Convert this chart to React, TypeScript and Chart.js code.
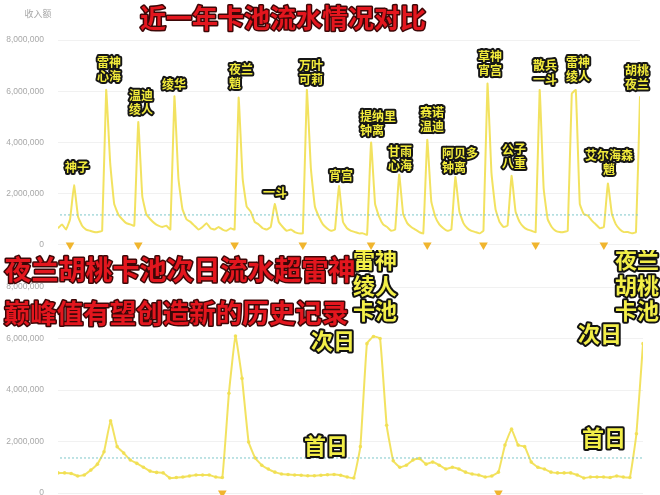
import React, { useEffect, useRef } from "react";
import { Chart, registerables } from "chart.js";
Chart.register(...registerables);

// ---- data (values in millions) ----
const topValues = [
  0.65, 0.8, 0.6, 1.0, 2.33, 1.1, 0.75, 0.6, 0.55, 0.5, 0.5, 0.55,
  6.05, 3.2, 1.6, 1.2, 1.0, 0.85, 0.8, 0.75,
  4.8, 1.9, 1.2, 1.0, 0.85, 0.75, 0.7, 0.75, 0.6,
  5.8, 2.6, 1.4, 1.0, 0.9, 0.75, 0.6, 0.7, 0.85, 0.65, 0.6, 0.7, 0.6, 0.55, 0.65, 0.6,
  5.75, 2.6, 1.5, 1.3, 0.9, 0.8, 0.65, 0.6, 0.7,
  1.6, 0.9, 0.7, 0.55, 0.6, 0.5, 0.45, 0.45,
  6.05, 3.0, 1.5, 1.1, 0.8, 0.65, 0.55, 0.6,
  2.3, 0.9, 0.65, 0.55, 0.5, 0.45, 0.45, 0.4,
  4.0, 1.6, 1.1, 0.8, 0.7, 0.55, 0.6,
  2.75, 1.2, 0.85, 0.7, 0.6, 0.5, 0.45,
  4.1, 1.7, 1.1, 0.8, 0.65, 0.55, 0.6,
  2.65, 1.3, 0.85, 0.65, 0.55, 0.5, 0.45, 0.55,
  6.3, 2.8, 1.4, 0.9, 0.7, 0.75,
  2.7, 1.3, 0.9, 0.7, 0.6, 0.55, 0.5,
  6.05, 2.2, 1.0, 0.7, 0.55, 0.5, 0.5, 0.55,
  5.9, 6.05, 1.6, 1.2, 1.15, 0.95, 0.8, 0.65, 0.7,
  2.4, 1.2, 0.8, 0.6, 0.5, 0.5, 0.45, 0.5, 5.8,
];

const bottomValues = [
  0.78, 0.78, 0.76, 0.66, 0.7, 0.89, 1.12, 1.6, 2.8, 1.8,
  1.55, 1.28, 1.15, 1.0, 0.85, 0.8, 0.78, 0.58, 0.6, 0.62,
  0.66, 0.7, 0.7, 0.7, 0.62, 0.6, 3.87, 6.1, 4.45, 1.98,
  1.36, 1.08, 0.93, 0.81, 0.74, 0.72, 0.7, 0.69, 0.67, 0.67,
  0.69, 0.71, 0.72, 0.69, 0.62, 0.58, 1.8, 5.8, 6.08, 6.0,
  2.63, 1.25, 1.0, 1.08, 1.28, 1.34, 1.12, 1.2, 1.08, 0.93,
  1.0, 0.93, 0.81, 0.74, 0.7, 0.62, 0.66, 0.81, 1.86, 2.48,
  1.86, 1.8, 1.2, 1.0, 0.93, 0.81, 0.78, 0.78, 0.78, 0.7,
  0.58, 0.62, 0.62, 0.62, 0.6, 0.66, 0.62, 0.6, 2.3, 5.8,
];

const yTickValues = [0, 2000000, 4000000, 6000000, 8000000];
const topAverage = 1.17;
const bottomAverage = 1.36;
const topBannerIndex = [3, 20, 44, 61, 78, 92, 106, 119, 136];
const bottomBannerIndex = [25, 67];

const topLabelLines = [
  ["神子"], ["雷神", "心海"], ["温迪", "绫人"], ["绫华"], ["夜兰", "魈"], ["一斗"],
  ["万叶", "可莉"], ["宵宫"], ["提纳里", "钟离"], ["甘雨", "心海"], ["赛诺", "温迪"],
  ["阿贝多", "钟离"], ["草神", "宵宫"], ["公子", "八重"], ["散兵", "一斗"],
  ["雷神", "绫人"], ["艾尔海森", "魈"], ["胡桃", "夜兰"],
];
const topLabelIndex = [1.74, 9.72, 17.69, 25.91, 42.6, 51.07, 60.04, 67.51, 75.24, 82.21, 90.18, 95.66, 104.63, 110.61, 118.34, 126.56, 131.29, 141.26];
const topLabelValue = [3.04, 7.14, 5.85, 6.28, 6.87, 2.03, 6.99, 2.73, 5.03, 3.63, 5.19, 3.59, 7.34, 3.71, 7.02, 7.14, 3.51, 6.83];
const topLabelCentered = [false, false, false, false, false, false, false, false, false, false, false, false, false, false, false, false, true, false];

const bottomLabelLines = [["雷神", "绫人", "卡池"], ["夜兰", "胡桃", "卡池"], ["次日"], ["首日"], ["次日"], ["首日"]];
const bottomLabelIndex = [48.23, 88.09, 41.84, 40.77, 82.46, 83.07];
const bottomLabelValue = [9.05, 9.05, 5.9, 1.83, 6.17, 2.14];

const topTitle = "近一年卡池流水情况对比";
const bottomTitle1 = "夜兰胡桃卡池次日流水超雷神";
const bottomTitle2 = "巅峰值有望创造新的历史记录";
const yAxisName = "收入额";

const CJK = '"Noto Sans CJK SC", sans-serif';
const LINE_COLOR = "rgba(241,223,82,0.92)";

function outlined(ctx: CanvasRenderingContext2D, text: string, x: number, y: number, font: string, fill: string, stroke: string, lw: number, align: CanvasTextAlign) {
  ctx.save();
  ctx.font = font;
  ctx.textAlign = align;
  ctx.textBaseline = "middle";
  ctx.lineJoin = "round";
  if (lw > 0) {
    ctx.lineWidth = lw;
    ctx.strokeStyle = stroke;
    ctx.strokeText(text, x, y);
  }
  ctx.fillStyle = fill;
  ctx.fillText(text, x, y);
  ctx.restore();
}

function makeConfig(opts: {
  values: number[];
  banners: number[];
  average: number;
  points: boolean;
  padding: { top: number; bottom: number; right: number };
  drawExtra: (chart: any) => void;
}) {
  const n = opts.values.length;
  const lineData = opts.values.map((v, i) => ({ x: i, y: v * 1e6 }));
  const bannerData = opts.banners.map((i) => ({ x: i, y: 0 }));
  return {
    type: "line" as const,
    data: {
      datasets: [
        {
          data: lineData,
          borderColor: LINE_COLOR,
          backgroundColor: LINE_COLOR,
          borderWidth: 2,
          pointRadius: opts.points ? 1.8 : 0,
          pointBorderWidth: 0,
          tension: 0.1,
          order: 2,
        },
        {
          type: "scatter" as const,
          data: bannerData,
          pointStyle: "triangle",
          rotation: 180,
          pointRadius: 5,
          pointBorderWidth: 0,
          backgroundColor: "#f0b52e",
          borderColor: "#f0b52e",
          clip: false as any,
          order: 1,
        },
      ],
    },
    options: {
      responsive: false,
      animation: false as const,
      layout: { padding: { left: 0, top: opts.padding.top, bottom: opts.padding.bottom, right: opts.padding.right } },
      plugins: { legend: { display: false }, tooltip: { enabled: false } },
      scales: {
        x: { type: "linear" as const, display: false, min: 0, max: n - 1 },
        y: {
          min: 0,
          max: 8000000,
          border: { display: false },
          grid: { color: "#f1f1f1", drawTicks: true, tickLength: 14, tickColor: "rgba(0,0,0,0)" },
          afterBuildTicks: (scale: any) => {
            scale.ticks = yTickValues.map((v) => ({ value: v }));
          },
          afterFit: (scale: any) => {
            scale.width = 58;
          },
          ticks: {
            padding: 0,
            color: "#a8a8a8",
            font: { size: 8.5, family: '"Liberation Sans", Arial, sans-serif' },
            callback: (v: any) => Number(v).toLocaleString("en-US"),
          },
        },
      },
    },
    plugins: [
      {
        id: "overlay",
        afterDatasetsDraw(chart: any) {
          const { ctx, chartArea, scales } = chart;
          const y = scales.y.getPixelForValue(opts.average * 1e6);
          ctx.save();
          ctx.strokeStyle = "#7ec7c9";
          ctx.lineWidth = 1;
          ctx.setLineDash([2, 2]);
          ctx.beginPath();
          ctx.moveTo(chartArea.left + 2, y);
          ctx.lineTo(chartArea.right, y);
          ctx.stroke();
          ctx.restore();
        },
        afterDraw(chart: any) {
          opts.drawExtra(chart);
        },
      },
    ],
  };
}

function TopChart() {
  const ref = useRef<HTMLCanvasElement>(null);
  useEffect(() => {
    const cfg = makeConfig({
      values: topValues,
      banners: topBannerIndex,
      average: topAverage,
      points: false,
      padding: { top: 40, bottom: 5, right: 20 },
      drawExtra: (chart: any) => {
        const { ctx, scales } = chart;
        outlined(ctx, yAxisName, 38, 14, `9px ${CJK}`, "#a8a8a8", "", 0, "center");
        outlined(ctx, topTitle, 283, 18, `bold 26px ${CJK}`, "#e3161e", "#3d0707", 3, "center");
        const font = `bold 12px ${CJK}`;
        topLabelLines.forEach((lines, k) => {
          const x = scales.x.getPixelForValue(topLabelIndex[k]);
          const y = scales.y.getPixelForValue(topLabelValue[k] * 1e6);
          ctx.save();
          ctx.font = font;
          const blockW = Math.max(...lines.map((t) => ctx.measureText(t).width));
          ctx.restore();
          lines.forEach((t, j) => {
            if (topLabelCentered[k]) {
              outlined(ctx, t, x + blockW / 2, y + j * 14, font, "#f3ec3c", "#161616", 4, "center");
            } else {
              outlined(ctx, t, x, y + j * 14, font, "#f3ec3c", "#161616", 4, "left");
            }
          });
        });
      },
    });
    const chart = new Chart(ref.current as HTMLCanvasElement, cfg as any);
    return () => chart.destroy();
  }, []);
  return <canvas ref={ref} width={660} height={250} style={{ display: "block", width: 660, height: 250 }} />;
}

function BottomChart() {
  const ref = useRef<HTMLCanvasElement>(null);
  useEffect(() => {
    const cfg = makeConfig({
      values: bottomValues,
      banners: bottomBannerIndex,
      average: bottomAverage,
      points: true,
      padding: { top: 37, bottom: 7, right: 17 },
      drawExtra: (chart: any) => {
        const { ctx, scales } = chart;
        outlined(ctx, bottomTitle1, 180, 20, `bold 27px ${CJK}`, "#e3161e", "#3d0707", 3, "center");
        outlined(ctx, bottomTitle2, 176, 63, `bold 26.5px ${CJK}`, "#e3161e", "#3d0707", 3, "center");
        bottomLabelLines.forEach((lines, k) => {
          const x = scales.x.getPixelForValue(bottomLabelIndex[k]);
          const y = scales.y.getPixelForValue(bottomLabelValue[k] * 1e6);
          lines.forEach((t, j) => {
            outlined(ctx, t, x, y + j * 25.5, `bold 22px ${CJK}`, "#f2ee48", "#121212", 4, "center");
          });
        });
      },
    });
    const chart = new Chart(ref.current as HTMLCanvasElement, cfg as any);
    return () => chart.destroy();
  }, []);
  return <canvas ref={ref} width={660} height={250} style={{ display: "block", width: 660, height: 250 }} />;
}

export default function App() {
  return (
    <div style={{ position: "fixed", left: 0, top: 0, width: 660, height: 495, overflow: "hidden", background: "#ffffff" }}>
      <div style={{ position: "absolute", left: 0, top: 0 }}>
        <TopChart />
      </div>
      <div style={{ position: "absolute", left: 0, top: 250 }}>
        <BottomChart />
      </div>
    </div>
  );
}
